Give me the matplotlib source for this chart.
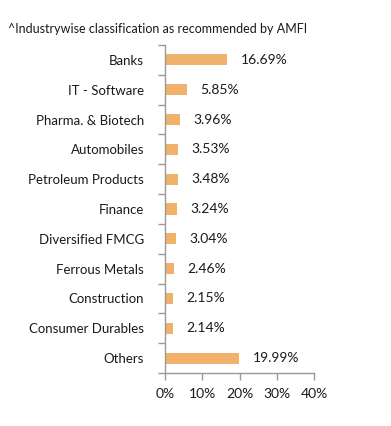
import matplotlib
matplotlib.use("Agg")
import matplotlib.pyplot as plt
import numpy as np

categories = ["Banks", "IT - Software", "Pharma. & Biotech", "Automobiles",
              "Petroleum Products", "Finance", "Diversified FMCG", "Ferrous Metals",
              "Construction", "Consumer Durables", "Others"]
values = [16.69, 5.85, 3.96, 3.53, 3.48, 3.24, 3.04, 2.46, 2.15, 2.14, 19.99]
xticks = [0, 10, 20, 30, 40]
title = "^Industrywise classification as recommended by AMFI"

plt.rcParams['font.family'] = ['Lato', 'DejaVu Sans']
plt.rcParams['font.weight'] = 'normal'

fig = plt.figure(figsize=(3.91, 4.26), dpi=100)
ax = fig.add_axes([165/391, 1-373/426, (314-165)/391, (373-45)/426])

bar_color = "#F0B26A"
text_color = "#1a1a1a"
y = np.arange(len(categories))
ax.barh(y, values, height=0.37, color=bar_color)
ax.set_ylim(len(categories)-0.5, -0.5)
ax.set_xlim(0, 40)

for yi, v in zip(y, values):
    ax.text(v + 3.6, yi, f"{v:.2f}%", va="center", ha="left", fontsize=10, color=text_color)

ax.set_xticks(xticks)
ax.set_xticklabels([f"{t}%" for t in xticks], fontsize=10, color=text_color)
ax.set_yticks(y)
ax.set_yticklabels(categories, fontsize=9.5, color=text_color)
ax.tick_params(axis='y', length=0, pad=15)
ax.set_yticks(np.arange(-0.5, len(categories), 1), minor=True)
ax.tick_params(axis='y', which='minor', length=5, color="#999999", width=1)
ax.tick_params(axis='x', length=5, color="#999999", width=1, pad=6)

for s in ["top", "right"]:
    ax.spines[s].set_visible(False)
for s in ["left", "bottom"]:
    ax.spines[s].set_color("#999999")
    ax.spines[s].set_linewidth(1)

fig.text(8/391, 1-29/426, title, fontsize=9, color=text_color, ha="left", va="center")

fig.savefig("out.png", dpi=100)
